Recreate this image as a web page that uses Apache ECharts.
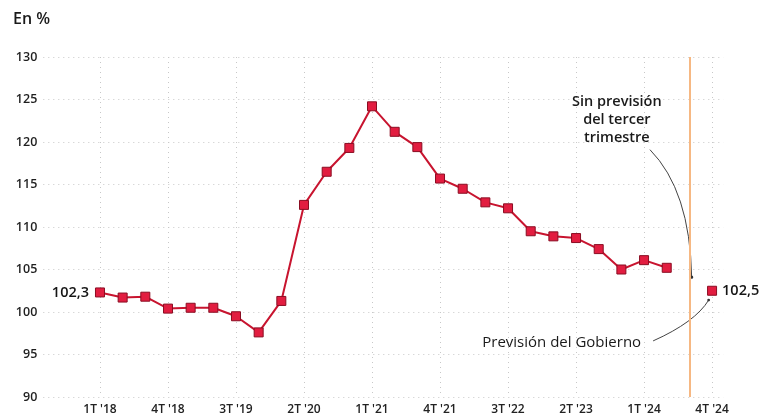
<!DOCTYPE html>
<html>
<head>
<meta charset="utf-8">
<script src="https://cdn.jsdelivr.net/npm/echarts@6/dist/echarts.min.js"></script>
<style>
html,body{margin:0;padding:0;background:#fff;}
#c{width:775px;height:419px;}
</style>
</head>
<body>
<div id="c"></div>
<script>
const quarters = ["1T '18","2T '18","3T '18","4T '18","1T '19","2T '19","3T '19","4T '19",
  "1T '20","2T '20","3T '20","4T '20","1T '21","2T '21","3T '21","4T '21",
  "1T '22","2T '22","3T '22","4T '22","1T '23","2T '23","3T '23","4T '23",
  "1T '24","2T '24","3T '24","4T '24"];
const values = [102.3,101.7,101.8,100.4,100.5,100.5,99.5,97.6,
  101.3,112.6,116.5,119.3,124.2,121.2,119.4,115.7,
  114.5,112.9,112.2,109.5,108.9,108.7,107.4,105.0,
  106.1,105.2];
const forecastIndex = 27;
const forecastValue = 102.5;
const gapIndex = 26;
const labelIdx = [0,3,6,9,12,15,18,21,24,27];
const yTicks = {min:90, max:130, step:5};

const FONT = "'Open Sans', 'Noto Sans', sans-serif";
const LINE = '#c8142f';
const MARK = '#e21d40';
const chart = echarts.init(document.getElementById('c'));

const mainData = values.map((v,i)=>[i,v]);

chart.setOption({
  animation:false,
  backgroundColor:'#fff',
  title:{text:'En %', left:8, top:6, textStyle:{fontFamily:FONT, fontSize:16, fontWeight:600, color:'#1a1a1a'}},
  grid:{left:43.3, right:51.6, top:57, bottom:22},
  xAxis:{type:'value', min:-2.5, max:27.5,
    axisLine:{show:false},
    axisTick:{show:false, customValues:labelIdx},
    axisLabel:{customValues:labelIdx, formatter:v=>quarters[Math.round(v)]||'',
      fontFamily:FONT, fontSize:12, fontWeight:600, color:'#222', margin:7},
    splitLine:{show:true, lineStyle:{type:[1,4], color:'#c8c8c8', width:1}}
  },
  yAxis:{type:'value', min:yTicks.min, max:yTicks.max, interval:yTicks.step,
    axisLine:{show:false}, axisTick:{show:false},
    axisLabel:{fontFamily:FONT, fontSize:12.5, fontWeight:600, color:'#1e1e1e', margin:6},
    splitLine:{lineStyle:{type:[1,4], color:'#c8c8c8', width:1}}
  },
  series:[
    {type:'line', data:mainData.map((d,i)=> i===0 ? {value:d, label:{show:true, position:'left', formatter:'102,3', distance:6,
        fontFamily:FONT, fontSize:14.5, fontWeight:600, color:'#151515'}} : d),
      symbol:'rect', symbolSize:9,
      lineStyle:{color:LINE, width:2},
      itemStyle:{color:MARK, borderColor:'#8a0d22', borderWidth:1},
      z:5,
      markLine:{silent:true, symbol:'none', label:{show:false},
        lineStyle:{color:'#f6b883', width:2, type:'solid', opacity:1},
        data:[{xAxis:gapIndex}]}
    },
    {type:'line', data:[{value:[forecastIndex, forecastValue], label:{show:true, position:'right', distance:5,
        formatter:'102,5', fontFamily:FONT, fontSize:14.5, fontWeight:600, color:'#151515'}}],
      symbol:'rect', symbolSize:9,
      itemStyle:{color:MARK, borderColor:'#8a0d22', borderWidth:1},
      z:5
    }
  ]
});

function P(x,y){ return chart.convertToPixel({gridIndex:0}, [x,y]); }
const t1 = P(22.8, 122.6);
const t2 = P(23.87, 96.35);
const a1s = P(24.26, 119.1), a1c = P(26.03, 114.3), a1e = P(26.1, 104.1);
const a2s = P(24.4, 96.6), a2c = P(26.25, 98.8), a2e = P(26.85, 101.4);
const ann = {fill:'none', stroke:'#444', lineWidth:1};
chart.setOption({graphic:[
  {type:'text', x:t1[0], y:t1[1], style:{text:'Sin previsión\ndel tercer\ntrimestre', align:'center', verticalAlign:'middle',
    lineHeight:18, font:`600 14.5px ${FONT}`, fill:'#1a1a1a'}},
  {type:'text', x:t2[0], y:t2[1], style:{text:'Previsión del Gobierno', align:'right', verticalAlign:'middle',
    font:`500 15px ${FONT}`, fill:'#1a1a1a'}},
  {type:'bezierCurve', shape:{x1:a1s[0], y1:a1s[1], cpx1:a1c[0], cpy1:a1c[1], x2:a1e[0], y2:a1e[1]}, style:ann},
  {type:'circle', shape:{cx:a1e[0], cy:a1e[1], r:1.6}, style:{fill:'#333'}},
  {type:'bezierCurve', shape:{x1:a2s[0], y1:a2s[1], cpx1:a2c[0], cpy1:a2c[1], x2:a2e[0], y2:a2e[1]}, style:ann},
  {type:'circle', shape:{cx:a2e[0], cy:a2e[1], r:1.4}, style:{fill:'#333'}}
]});
</script>
</body>
</html>
